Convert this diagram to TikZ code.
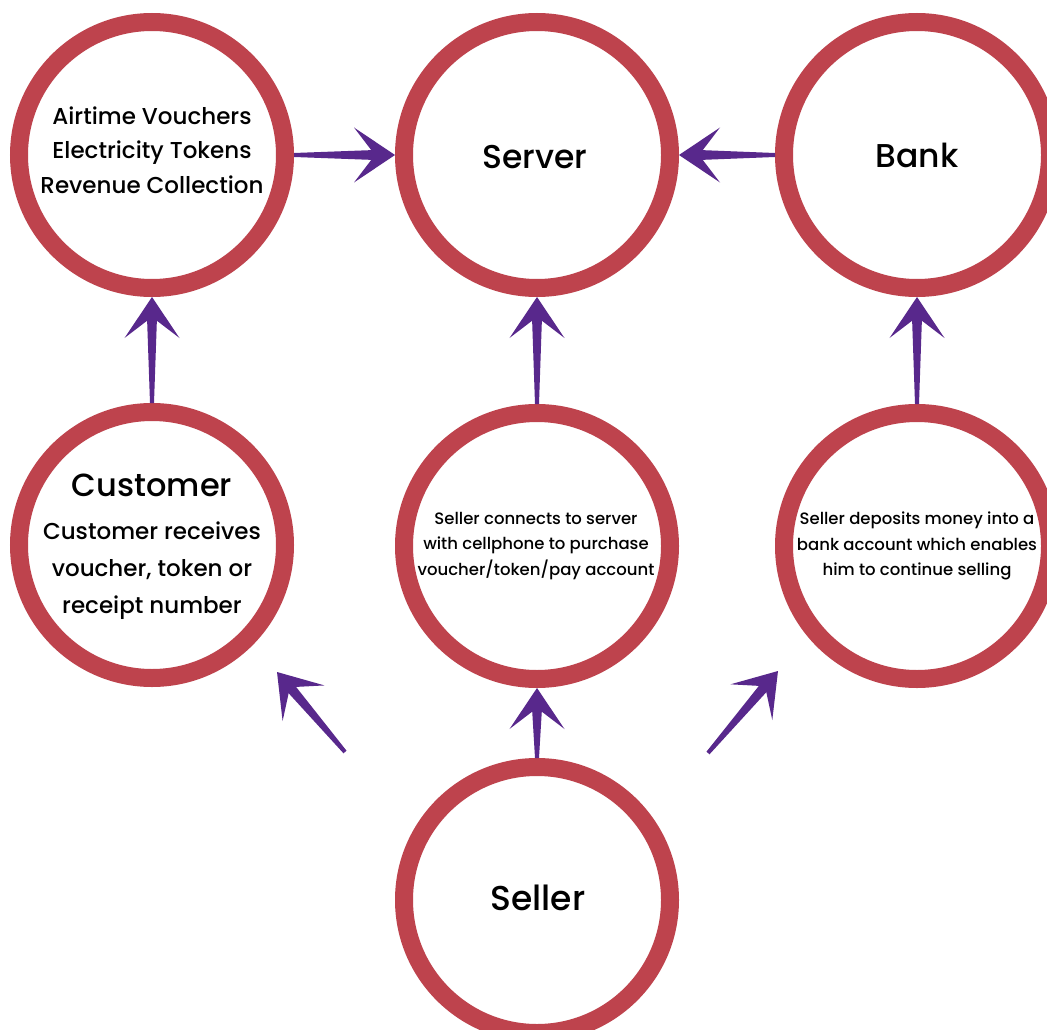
\documentclass[tikz,border=0pt]{standalone}
\usepackage{fontspec}
\setmainfont{Poppins Medium}
\usetikzlibrary{calc}
\definecolor{ringc}{RGB}{190,67,77}
\definecolor{arrc}{RGB}{88,40,140}
\tikzset{
  ringnode/.style={circle, draw=ringc, line width=18pt, minimum size=266pt,
    inner sep=0pt, fill=white},
  txt/.style={align=center, inner sep=0pt, text=black},
  bigtxt/.style={txt, font=\fontsize{33}{36}\selectfont},
  midtxt/.style={txt, font=\fontsize{23}{34.5}\selectfont},
  smalltxt/.style={txt, font=\fontsize{16.5}{25.5}\selectfont},
}
\newcommand\tarrow[2]{%
  \coordinate (tB) at ($(#2)!41pt!(#1)$);
  \coordinate (tI) at ($(#2)!20pt!(#1)$);
  \fill[arrc] ($(#1)!2pt!90:(#2)$) -- ($(tI)!5pt!90:(#2)$)
     -- ($(tI)!5pt!-90:(#2)$) -- ($(#1)!2pt!-90:(#2)$) -- cycle;
  \fill[arrc] (#2) -- ($(tB)!27.5pt!90:(#2)$) -- (tI)
     -- ($(tB)!27.5pt!-90:(#2)$) -- cycle;
}
\begin{document}
\begin{tikzpicture}[x=1pt, y=-1pt]
\useasboundingbox[fill=white] (0,0) rectangle (1047,1030);
% circles
\node[ringnode] (tl) at (152,155) {};
\node[ringnode] (srv) at (537,155) {};
\node[ringnode] (bank) at (917,155) {};
\node[ringnode] (cust) at (152,545) {};
\node[ringnode] (mid) at (537,546) {};
\node[ringnode] (dep) at (917,546) {};
\node[ringnode] (sel) at (537,900) {};
% texts
\node[midtxt] (tlt) at (152,150) {Airtime Vouchers\\Electricity Tokens\\Revenue Collection};
\node[bigtxt] (srvt) at (535,157) {Server};
\node[bigtxt] (bankt) at (917,155) {Bank};
\node[txt, font=\fontsize{23}{37}\selectfont] (custt) at (152,547)
  {{\fontsize{32}{37}\selectfont Customer}\\[6pt]Customer receives\\voucher, token or\\receipt number};
\node[smalltxt] (midt) at (536,546) {Seller connects to server\\with cellphone to purchase\\voucher/token/pay account};
\node[smalltxt] (dept) at (917,546) {Seller deposits money into a\\bank account which enables\\him to continue selling};
\node[txt, font=\fontsize{34.5}{36}\selectfont] (selt) at (538,898) {Seller};
% free arrow ends
\coordinate (d1s) at (345,752);
\coordinate (d1e) at (277,672);
\coordinate (d2s) at (708,753);
\coordinate (d2e) at (778,671);
% arrows
\tarrow{tl.east}{srv.west}
\tarrow{bank.west}{srv.east}
\tarrow{cust.north}{tl.south}
\tarrow{mid.north}{srv.south}
\tarrow{dep.north}{bank.south}
\tarrow{sel.north}{mid.south}
\tarrow{d1s}{d1e}
\tarrow{d2s}{d2e}
\end{tikzpicture}
\end{document}
